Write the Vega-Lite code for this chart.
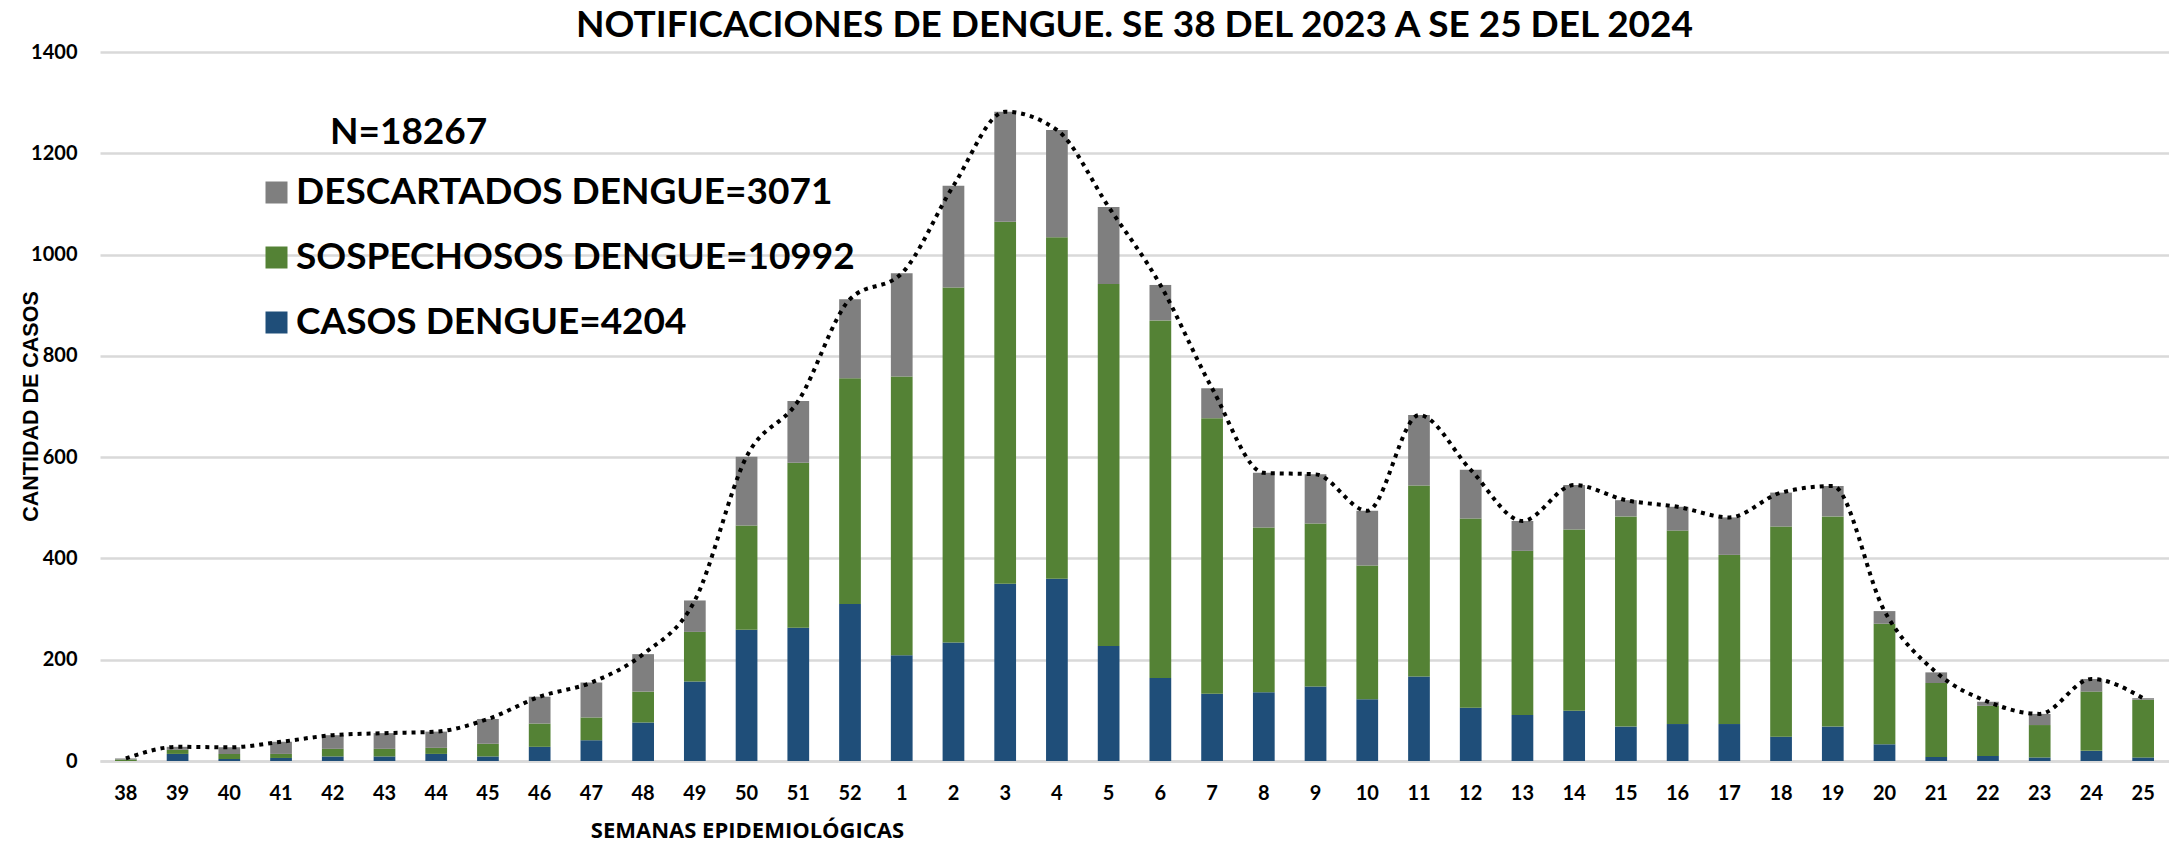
{
  "$schema": "https://vega.github.io/schema/vega-lite/v6.json",
  "autosize": "none",
  "width": 2069,
  "height": 709,
  "padding": {"left": 100, "top": 52, "right": 0, "bottom": 83},
  "background": "white",
  "title": {
    "text": "NOTIFICACIONES DE DENGUE. SE 38 DEL 2023 A SE 25 DEL 2024",
    "font": "Lato",
    "fontSize": 37,
    "fontWeight": "bold",
    "color": "#000000",
    "anchor": "middle",
    "offset": -3
  },
  "data": {
    "values": [
      {"semana": "38", "serie": "CASOS DENGUE=4204", "orden": 1, "valor": 0},
      {"semana": "38", "serie": "SOSPECHOSOS DENGUE=10992", "orden": 2, "valor": 3},
      {"semana": "38", "serie": "DESCARTADOS DENGUE=3071", "orden": 3, "valor": 2},
      {"semana": "39", "serie": "CASOS DENGUE=4204", "orden": 1, "valor": 14},
      {"semana": "39", "serie": "SOSPECHOSOS DENGUE=10992", "orden": 2, "valor": 8},
      {"semana": "39", "serie": "DESCARTADOS DENGUE=3071", "orden": 3, "valor": 6},
      {"semana": "40", "serie": "CASOS DENGUE=4204", "orden": 1, "valor": 4},
      {"semana": "40", "serie": "SOSPECHOSOS DENGUE=10992", "orden": 2, "valor": 10},
      {"semana": "40", "serie": "DESCARTADOS DENGUE=3071", "orden": 3, "valor": 13},
      {"semana": "41", "serie": "CASOS DENGUE=4204", "orden": 1, "valor": 6},
      {"semana": "41", "serie": "SOSPECHOSOS DENGUE=10992", "orden": 2, "valor": 8},
      {"semana": "41", "serie": "DESCARTADOS DENGUE=3071", "orden": 3, "valor": 24},
      {"semana": "42", "serie": "CASOS DENGUE=4204", "orden": 1, "valor": 9},
      {"semana": "42", "serie": "SOSPECHOSOS DENGUE=10992", "orden": 2, "valor": 15},
      {"semana": "42", "serie": "DESCARTADOS DENGUE=3071", "orden": 3, "valor": 27},
      {"semana": "43", "serie": "CASOS DENGUE=4204", "orden": 1, "valor": 9},
      {"semana": "43", "serie": "SOSPECHOSOS DENGUE=10992", "orden": 2, "valor": 15},
      {"semana": "43", "serie": "DESCARTADOS DENGUE=3071", "orden": 3, "valor": 31},
      {"semana": "44", "serie": "CASOS DENGUE=4204", "orden": 1, "valor": 14},
      {"semana": "44", "serie": "SOSPECHOSOS DENGUE=10992", "orden": 2, "valor": 12},
      {"semana": "44", "serie": "DESCARTADOS DENGUE=3071", "orden": 3, "valor": 32},
      {"semana": "45", "serie": "CASOS DENGUE=4204", "orden": 1, "valor": 9},
      {"semana": "45", "serie": "SOSPECHOSOS DENGUE=10992", "orden": 2, "valor": 25},
      {"semana": "45", "serie": "DESCARTADOS DENGUE=3071", "orden": 3, "valor": 49},
      {"semana": "46", "serie": "CASOS DENGUE=4204", "orden": 1, "valor": 28},
      {"semana": "46", "serie": "SOSPECHOSOS DENGUE=10992", "orden": 2, "valor": 46},
      {"semana": "46", "serie": "DESCARTADOS DENGUE=3071", "orden": 3, "valor": 53},
      {"semana": "47", "serie": "CASOS DENGUE=4204", "orden": 1, "valor": 41},
      {"semana": "47", "serie": "SOSPECHOSOS DENGUE=10992", "orden": 2, "valor": 45},
      {"semana": "47", "serie": "DESCARTADOS DENGUE=3071", "orden": 3, "valor": 69},
      {"semana": "48", "serie": "CASOS DENGUE=4204", "orden": 1, "valor": 76},
      {"semana": "48", "serie": "SOSPECHOSOS DENGUE=10992", "orden": 2, "valor": 61},
      {"semana": "48", "serie": "DESCARTADOS DENGUE=3071", "orden": 3, "valor": 74},
      {"semana": "49", "serie": "CASOS DENGUE=4204", "orden": 1, "valor": 157},
      {"semana": "49", "serie": "SOSPECHOSOS DENGUE=10992", "orden": 2, "valor": 98},
      {"semana": "49", "serie": "DESCARTADOS DENGUE=3071", "orden": 3, "valor": 62},
      {"semana": "50", "serie": "CASOS DENGUE=4204", "orden": 1, "valor": 259},
      {"semana": "50", "serie": "SOSPECHOSOS DENGUE=10992", "orden": 2, "valor": 206},
      {"semana": "50", "serie": "DESCARTADOS DENGUE=3071", "orden": 3, "valor": 136},
      {"semana": "51", "serie": "CASOS DENGUE=4204", "orden": 1, "valor": 263},
      {"semana": "51", "serie": "SOSPECHOSOS DENGUE=10992", "orden": 2, "valor": 326},
      {"semana": "51", "serie": "DESCARTADOS DENGUE=3071", "orden": 3, "valor": 122},
      {"semana": "52", "serie": "CASOS DENGUE=4204", "orden": 1, "valor": 310},
      {"semana": "52", "serie": "SOSPECHOSOS DENGUE=10992", "orden": 2, "valor": 446},
      {"semana": "52", "serie": "DESCARTADOS DENGUE=3071", "orden": 3, "valor": 156},
      {"semana": "1", "serie": "CASOS DENGUE=4204", "orden": 1, "valor": 209},
      {"semana": "1", "serie": "SOSPECHOSOS DENGUE=10992", "orden": 2, "valor": 550},
      {"semana": "1", "serie": "DESCARTADOS DENGUE=3071", "orden": 3, "valor": 204},
      {"semana": "2", "serie": "CASOS DENGUE=4204", "orden": 1, "valor": 234},
      {"semana": "2", "serie": "SOSPECHOSOS DENGUE=10992", "orden": 2, "valor": 701},
      {"semana": "2", "serie": "DESCARTADOS DENGUE=3071", "orden": 3, "valor": 201},
      {"semana": "3", "serie": "CASOS DENGUE=4204", "orden": 1, "valor": 350},
      {"semana": "3", "serie": "SOSPECHOSOS DENGUE=10992", "orden": 2, "valor": 715},
      {"semana": "3", "serie": "DESCARTADOS DENGUE=3071", "orden": 3, "valor": 217},
      {"semana": "4", "serie": "CASOS DENGUE=4204", "orden": 1, "valor": 360},
      {"semana": "4", "serie": "SOSPECHOSOS DENGUE=10992", "orden": 2, "valor": 674},
      {"semana": "4", "serie": "DESCARTADOS DENGUE=3071", "orden": 3, "valor": 212},
      {"semana": "5", "serie": "CASOS DENGUE=4204", "orden": 1, "valor": 227},
      {"semana": "5", "serie": "SOSPECHOSOS DENGUE=10992", "orden": 2, "valor": 715},
      {"semana": "5", "serie": "DESCARTADOS DENGUE=3071", "orden": 3, "valor": 152},
      {"semana": "6", "serie": "CASOS DENGUE=4204", "orden": 1, "valor": 164},
      {"semana": "6", "serie": "SOSPECHOSOS DENGUE=10992", "orden": 2, "valor": 706},
      {"semana": "6", "serie": "DESCARTADOS DENGUE=3071", "orden": 3, "valor": 70},
      {"semana": "7", "serie": "CASOS DENGUE=4204", "orden": 1, "valor": 133},
      {"semana": "7", "serie": "SOSPECHOSOS DENGUE=10992", "orden": 2, "valor": 544},
      {"semana": "7", "serie": "DESCARTADOS DENGUE=3071", "orden": 3, "valor": 59},
      {"semana": "8", "serie": "CASOS DENGUE=4204", "orden": 1, "valor": 136},
      {"semana": "8", "serie": "SOSPECHOSOS DENGUE=10992", "orden": 2, "valor": 325},
      {"semana": "8", "serie": "DESCARTADOS DENGUE=3071", "orden": 3, "valor": 108},
      {"semana": "9", "serie": "CASOS DENGUE=4204", "orden": 1, "valor": 147},
      {"semana": "9", "serie": "SOSPECHOSOS DENGUE=10992", "orden": 2, "valor": 322},
      {"semana": "9", "serie": "DESCARTADOS DENGUE=3071", "orden": 3, "valor": 97},
      {"semana": "10", "serie": "CASOS DENGUE=4204", "orden": 1, "valor": 122},
      {"semana": "10", "serie": "SOSPECHOSOS DENGUE=10992", "orden": 2, "valor": 264},
      {"semana": "10", "serie": "DESCARTADOS DENGUE=3071", "orden": 3, "valor": 108},
      {"semana": "11", "serie": "CASOS DENGUE=4204", "orden": 1, "valor": 167},
      {"semana": "11", "serie": "SOSPECHOSOS DENGUE=10992", "orden": 2, "valor": 377},
      {"semana": "11", "serie": "DESCARTADOS DENGUE=3071", "orden": 3, "valor": 139},
      {"semana": "12", "serie": "CASOS DENGUE=4204", "orden": 1, "valor": 105},
      {"semana": "12", "serie": "SOSPECHOSOS DENGUE=10992", "orden": 2, "valor": 374},
      {"semana": "12", "serie": "DESCARTADOS DENGUE=3071", "orden": 3, "valor": 96},
      {"semana": "13", "serie": "CASOS DENGUE=4204", "orden": 1, "valor": 91},
      {"semana": "13", "serie": "SOSPECHOSOS DENGUE=10992", "orden": 2, "valor": 324},
      {"semana": "13", "serie": "DESCARTADOS DENGUE=3071", "orden": 3, "valor": 59},
      {"semana": "14", "serie": "CASOS DENGUE=4204", "orden": 1, "valor": 99},
      {"semana": "14", "serie": "SOSPECHOSOS DENGUE=10992", "orden": 2, "valor": 358},
      {"semana": "14", "serie": "DESCARTADOS DENGUE=3071", "orden": 3, "valor": 88},
      {"semana": "15", "serie": "CASOS DENGUE=4204", "orden": 1, "valor": 68},
      {"semana": "15", "serie": "SOSPECHOSOS DENGUE=10992", "orden": 2, "valor": 415},
      {"semana": "15", "serie": "DESCARTADOS DENGUE=3071", "orden": 3, "valor": 32},
      {"semana": "16", "serie": "CASOS DENGUE=4204", "orden": 1, "valor": 73},
      {"semana": "16", "serie": "SOSPECHOSOS DENGUE=10992", "orden": 2, "valor": 382},
      {"semana": "16", "serie": "DESCARTADOS DENGUE=3071", "orden": 3, "valor": 47},
      {"semana": "17", "serie": "CASOS DENGUE=4204", "orden": 1, "valor": 73},
      {"semana": "17", "serie": "SOSPECHOSOS DENGUE=10992", "orden": 2, "valor": 334},
      {"semana": "17", "serie": "DESCARTADOS DENGUE=3071", "orden": 3, "valor": 74},
      {"semana": "18", "serie": "CASOS DENGUE=4204", "orden": 1, "valor": 48},
      {"semana": "18", "serie": "SOSPECHOSOS DENGUE=10992", "orden": 2, "valor": 415},
      {"semana": "18", "serie": "DESCARTADOS DENGUE=3071", "orden": 3, "valor": 67},
      {"semana": "19", "serie": "CASOS DENGUE=4204", "orden": 1, "valor": 68},
      {"semana": "19", "serie": "SOSPECHOSOS DENGUE=10992", "orden": 2, "valor": 415},
      {"semana": "19", "serie": "DESCARTADOS DENGUE=3071", "orden": 3, "valor": 60},
      {"semana": "20", "serie": "CASOS DENGUE=4204", "orden": 1, "valor": 33},
      {"semana": "20", "serie": "SOSPECHOSOS DENGUE=10992", "orden": 2, "valor": 238},
      {"semana": "20", "serie": "DESCARTADOS DENGUE=3071", "orden": 3, "valor": 25},
      {"semana": "21", "serie": "CASOS DENGUE=4204", "orden": 1, "valor": 8},
      {"semana": "21", "serie": "SOSPECHOSOS DENGUE=10992", "orden": 2, "valor": 146},
      {"semana": "21", "serie": "DESCARTADOS DENGUE=3071", "orden": 3, "valor": 21},
      {"semana": "22", "serie": "CASOS DENGUE=4204", "orden": 1, "valor": 10},
      {"semana": "22", "serie": "SOSPECHOSOS DENGUE=10992", "orden": 2, "valor": 99},
      {"semana": "22", "serie": "DESCARTADOS DENGUE=3071", "orden": 3, "valor": 8},
      {"semana": "23", "serie": "CASOS DENGUE=4204", "orden": 1, "valor": 7},
      {"semana": "23", "serie": "SOSPECHOSOS DENGUE=10992", "orden": 2, "valor": 64},
      {"semana": "23", "serie": "DESCARTADOS DENGUE=3071", "orden": 3, "valor": 22},
      {"semana": "24", "serie": "CASOS DENGUE=4204", "orden": 1, "valor": 20},
      {"semana": "24", "serie": "SOSPECHOSOS DENGUE=10992", "orden": 2, "valor": 117},
      {"semana": "24", "serie": "DESCARTADOS DENGUE=3071", "orden": 3, "valor": 25},
      {"semana": "25", "serie": "CASOS DENGUE=4204", "orden": 1, "valor": 7},
      {"semana": "25", "serie": "SOSPECHOSOS DENGUE=10992", "orden": 2, "valor": 114},
      {"semana": "25", "serie": "DESCARTADOS DENGUE=3071", "orden": 3, "valor": 3}
    ]
  },
  "encoding": {
    "x": {
      "field": "semana",
      "type": "nominal",
      "sort": ["38","39","40","41","42","43","44","45","46","47","48","49","50","51","52","1","2","3","4","5","6","7","8","9","10","11","12","13","14","15","16","17","18","19","20","21","22","23","24","25"],
      "scale": {"paddingInner": 0.58, "paddingOuter": 0.29},
      "axis": {
        "title": "SEMANAS EPIDEMIOLÓGICAS",
        "titleFont": "Open Sans",
        "titleFontSize": 22,
        "titleFontWeight": "bold",
        "titleColor": "#000000",
        "titleX": 647,
        "titleY": 59,
        "titleAnchor": "middle",
        "titleBaseline": "top",
        "labelAngle": 0,
        "labelFont": "Lato",
        "labelFontSize": 20,
        "labelFontWeight": "bold",
        "labelColor": "#000000",
        "labelPadding": 22,
        "ticks": false,
        "domain": true,
        "domainColor": "#d9d9d9",
        "domainWidth": 2.5,
        "grid": false
      }
    }
  },
  "layer": [
    {
      "mark": {"type": "bar"},
      "encoding": {
        "y": {
          "field": "valor",
          "type": "quantitative",
          "stack": "zero",
          "scale": {"domain": [0, 1400], "nice": false},
          "axis": {
            "title": "CANTIDAD DE CASOS",
            "titleFont": "Liberation Sans",
            "titleFontSize": 21.5,
            "titleFontWeight": "bold",
            "titleColor": "#000000",
            "titleX": -63,
            "titleY": 354,
            "titleAngle": -90,
            "titleAlign": "center",
            "titleBaseline": "alphabetic",
            "values": [0, 200, 400, 600, 800, 1000, 1200, 1400],
            "format": "d",
            "labelFont": "Lato",
            "labelFontSize": 20,
            "labelFontWeight": "bold",
            "labelColor": "#000000",
            "labelPadding": 23,
            "ticks": false,
            "domain": false,
            "grid": true,
            "gridColor": "#d9d9d9",
            "gridWidth": 2.5
          }
        },
        "color": {
          "field": "serie",
          "type": "nominal",
          "scale": {
            "domain": ["DESCARTADOS DENGUE=3071", "SOSPECHOSOS DENGUE=10992", "CASOS DENGUE=4204"],
            "range": ["#7f7f7f", "#548235", "#1f4e79"]
          },
          "legend": {
            "title": "\u2800\u2800\u00a0\u00a0N=18267",
            "orient": "none",
            "legendX": 158,
            "legendY": 63,
            "padding": 0,
            "titleFont": "Lato",
            "titleFontSize": 37,
            "titleFontWeight": "bold",
            "titleColor": "#000000",
            "titlePadding": 22,
            "titleLimit": 2000,
            "labelFont": "Lato",
            "labelFontSize": 37,
            "labelFontWeight": "bold",
            "labelColor": "#000000",
            "labelLimit": 2000,
            "labelOffset": 1,
            "symbolType": "square",
            "symbolSize": 484,
            "symbolStrokeWidth": 0,
            "rowPadding": 27
          }
        },
        "order": {"field": "orden", "type": "quantitative", "sort": "ascending"}
      }
    },
    {
      "mark": {
        "type": "line",
        "color": "#000000",
        "strokeWidth": 4,
        "strokeDash": [4, 5],
        "interpolate": "monotone"
      },
      "encoding": {
        "y": {"aggregate": "sum", "field": "valor", "type": "quantitative"}
      }
    }
  ],
  "config": {
    "view": {"stroke": null}
  }
}
